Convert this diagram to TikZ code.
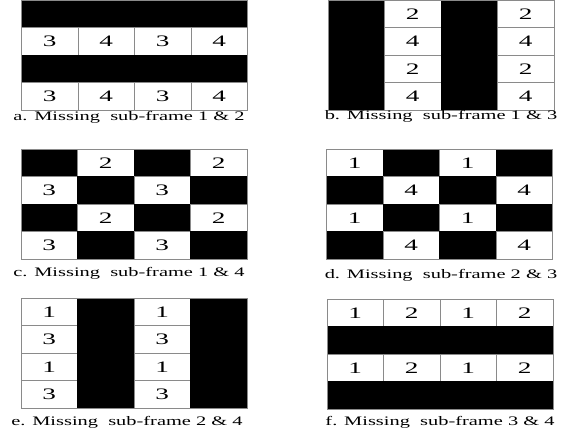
\documentclass[tikz,border=0pt]{standalone}
\usepackage{fontspec,graphicx}
\setmainfont{Liberation Serif}
\usetikzlibrary{positioning}
\definecolor{gitterfarbe}{HTML}{8A8A8A}
\newcommand{\ziffer}{\fontsize{16}{16}\selectfont}
\newcommand{\unterschrift}{\fontsize{13}{15}\selectfont}
\newcommand{\breit}[1]{\scalebox{1.7}[1]{#1}}
\newcommand{\titelbreit}[1]{\scalebox{1.57}[1]{#1}}
\tikzset{feld/.style={minimum width=56.5pt,minimum height=27.5pt,inner sep=0,outer sep=0},
  voll/.style={feld,draw=gitterfarbe,line width=0.7pt,fill=white,font=\ziffer},
  leer/.style={feld,fill=black,draw=black,line width=0.4pt},
  rahmen/.style={draw=gitterfarbe,line width=0.8pt},
  titel/.style={anchor=base,inner sep=0,font=\unterschrift}}
% #1 name, #2 linker rand, #3 oberer rand, #4 zeilen (0 = fehlend)
\newcommand{\teilbild}[4]{%
  \foreach \zeile [count=\zn] in {#4} {
    \foreach \wert [count=\sn] in \zeile {
      \ifnum\wert=0\relax
        \node[leer] (#1-\zn-\sn) at ({#2+(\sn-0.5)*56.5},{#3-(\zn-0.5)*27.5}) {};
      \else
        \node[voll] (#1-\zn-\sn) at ({#2+(\sn-0.5)*56.5},{#3-(\zn-0.5)*27.5}) {\breit{\wert}};
      \fi
    }
  }
  \draw[rahmen] (#1-1-1.north west) rectangle (#1-4-4.south east);}

\begin{document}
\begin{tikzpicture}[x=1pt,y=1pt]
\useasboundingbox (0,0) rectangle (572,430);
\teilbild{a}{21.5}{430}{{0,0,0,0},{3,4,3,4},{0,0,0,0},{3,4,3,4}}
\teilbild{b}{328}{430}{{0,2,0,2},{0,4,0,4},{0,2,0,2},{0,4,0,4}}
\teilbild{c}{21}{281}{{0,2,0,2},{3,0,3,0},{0,2,0,2},{3,0,3,0}}
\teilbild{d}{326.5}{281}{{1,0,1,0},{0,4,0,4},{1,0,1,0},{0,4,0,4}}
\teilbild{e}{21}{132}{{1,0,1,0},{3,0,3,0},{1,0,1,0},{3,0,3,0}}
\teilbild{f}{327}{131}{{1,2,1,2},{0,0,0,0},{1,2,1,2},{0,0,0,0}}
\node[titel] (a-titel) at (129,309) {\titelbreit{a. Missing\ \ sub-frame 1 \& 2}};
\node[titel] (b-titel) at (441,310) {\titelbreit{b. Missing\ \ sub-frame 1 \& 3}};
\node[titel] (c-titel) at (129,153) {\titelbreit{c. Missing\ \ sub-frame 1 \& 4}};
\node[titel] (d-titel) at (441,151) {\titelbreit{d. Missing\ \ sub-frame 2 \& 3}};
\node[titel] (e-titel) at (127,4) {\titelbreit{e. Missing\ \ sub-frame 2 \& 4}};
\node[titel] (f-titel) at (440,4) {\titelbreit{f. Missing\ \ sub-frame 3 \& 4}};
\end{tikzpicture}
\end{document}
